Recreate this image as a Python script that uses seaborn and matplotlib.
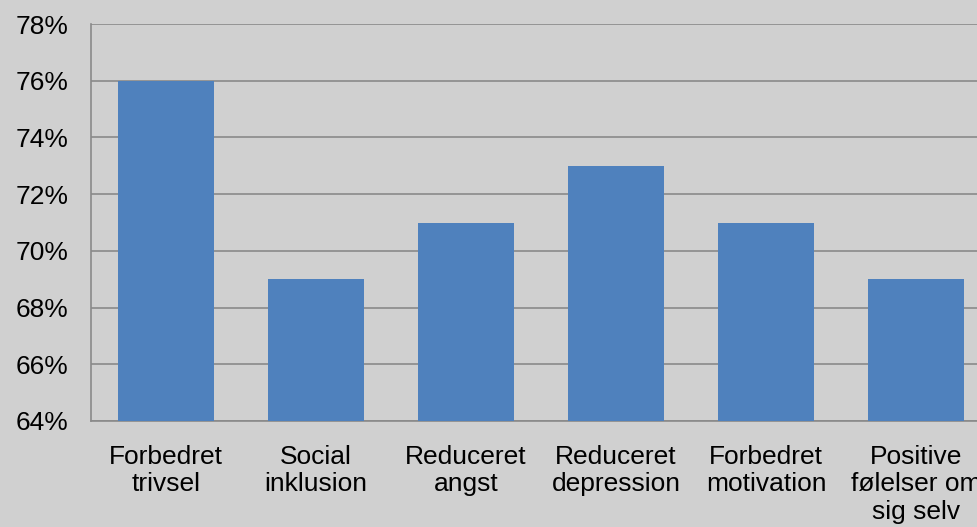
import matplotlib
matplotlib.use("Agg")
import matplotlib.pyplot as plt
import seaborn as sns
import pandas as pd
from matplotlib.ticker import PercentFormatter

# values
categories = ["Forbedret\ntrivsel", "Social\ninklusion", "Reduceret\nangst",
              "Reduceret\ndepression", "Forbedret\nmotivation", "Positive\nfølelser om\nsig selv"]
shares = [76, 69, 71, 73, 71, 69]
y_ticks = [64, 66, 68, 70, 72, 74, 76, 78]

df = pd.DataFrame({"kategori": categories, "andel": shares})

bg = "#d0d0d0"
sns.set_style("white")
plt.rcParams["font.family"] = ["Liberation Sans", "DejaVu Sans"]

fig = plt.figure(figsize=(9.77, 5.27), dpi=100, facecolor=bg)
# plot area runs past the right edge, like the reference
ax = fig.add_axes([91 / 977, 106 / 527, 900 / 977, 397 / 527])
ax.set_facecolor(bg)

sns.barplot(data=df, x="kategori", y="andel", color="#4f81bd", saturation=1,
            width=0.64, edgecolor="none", linewidth=0, ax=ax, zorder=3)

ax.set_ylim(64, 78)
ax.set_yticks(y_ticks)
ax.yaxis.set_major_formatter(PercentFormatter(decimals=0))
ax.grid(axis="y", color="#8a8a8a", linewidth=1.2, zorder=0)
ax.set_axisbelow(True)

for side in ["top", "right"]:
    ax.spines[side].set_visible(False)
for side in ["left", "bottom"]:
    ax.spines[side].set_color("#8a8a8a")
    ax.spines[side].set_linewidth(1.2)

ax.tick_params(axis="both", length=0, labelsize=19, colors="black")
ax.tick_params(axis="y", pad=16)
ax.tick_params(axis="x", pad=17)
for lbl in ax.get_xticklabels():
    lbl.set_linespacing(1.2)
ax.set_xlabel("")
ax.set_ylabel("")

fig.savefig("out.png", dpi=100, facecolor=bg)
